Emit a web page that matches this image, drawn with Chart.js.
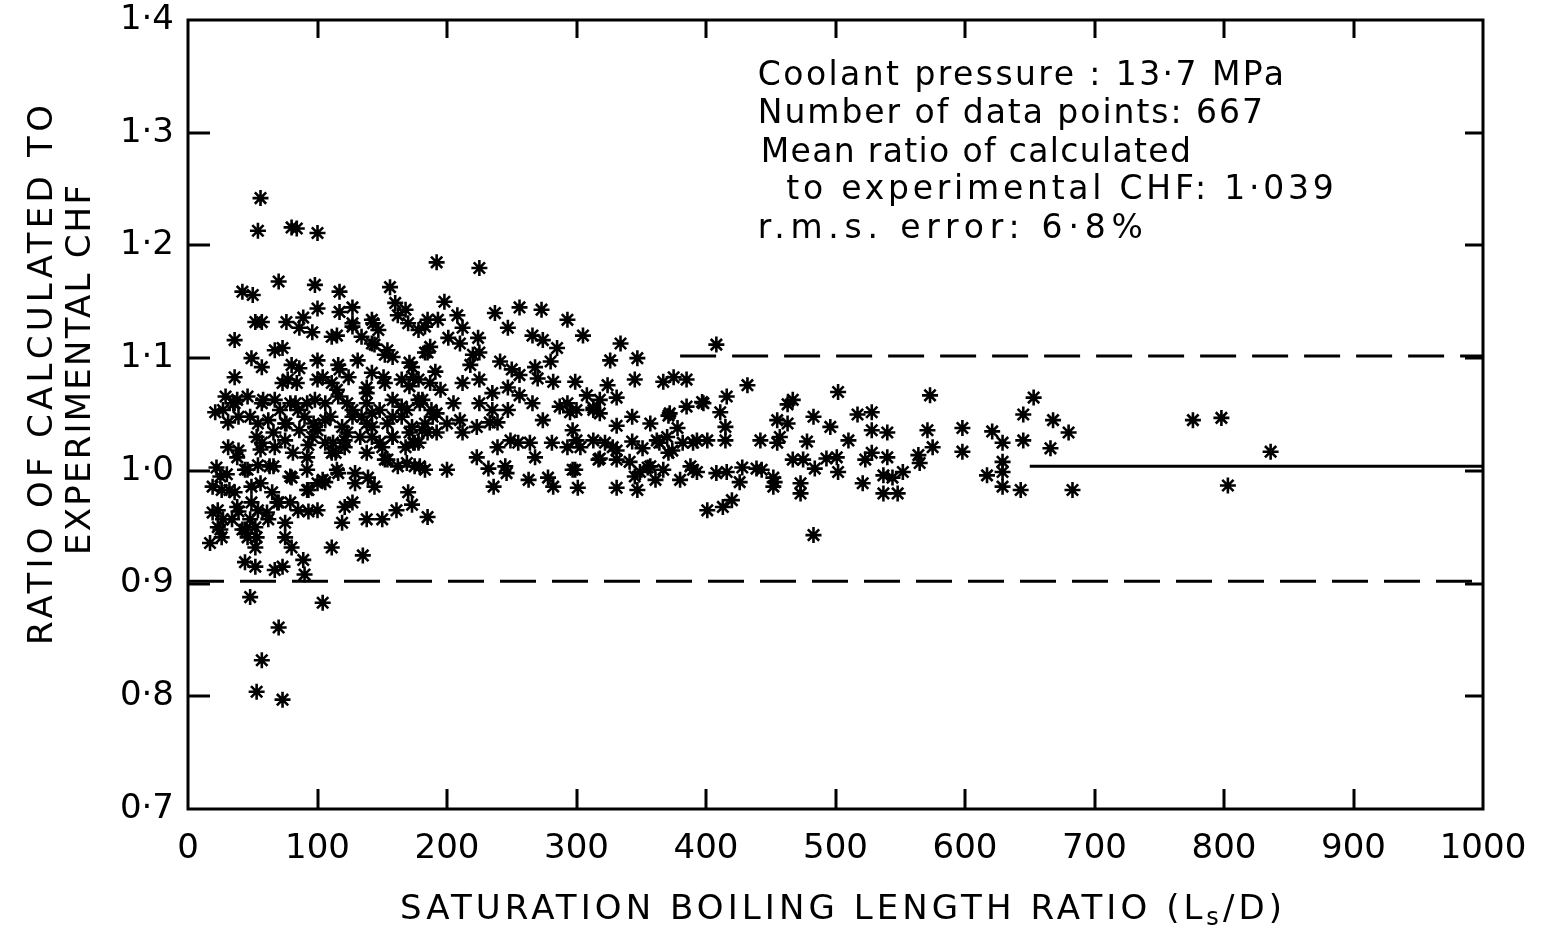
<!DOCTYPE html>
<html>
<head>
<meta charset="utf-8">
<script src="https://cdn.jsdelivr.net/npm/chart.js@4.4.1/dist/chart.umd.min.js"></script>
<style>
  html, body { margin: 0; background: #fff; }
  #wrap { width: 1545px; height: 930px; position: relative; }
</style>
</head>
<body>
<div id="wrap"><canvas id="chf"></canvas></div>
<script>
/* CHF ratio (calculated / experimental) against saturation boiling length ratio Ls/D */

// axis ticks
const xTickValues = [0, 100, 200, 300, 400, 500, 600, 700, 800, 900, 1000];
const xTickLabels = ['0', '100', '200', '300', '400', '500', '600', '700', '800', '900', '1000'];
const yTickValues = [0.7, 0.8, 0.9, 1.0, 1.1, 1.2, 1.3, 1.4];
const yTickLabels = ['0·7', '0·8', '0·9', '1·0', '1·1', '1·2', '1·3', '1·4'];

// [Ls/D, ratio] — short boiling lengths (Ls/D < 200)
const shortLs = [
  [56,1.242],[54,1.213],[80,1.216],[84,1.215],[100,1.211],[192,1.185],
  [70,1.168],[42,1.159],[50,1.156],[98,1.165],[117,1.159],[156,1.163],[100,1.144],[117,1.141],[127,1.145],[160,1.149],[168,1.143],
  [52,1.132],[57,1.132],[76,1.132],[89,1.136],[86,1.127],[96,1.123],[36,1.116],[67,1.107],[73,1.109],[111,1.119],[115,1.120],
  [127,1.131],[142,1.134],[147,1.125],[134,1.119],[144,1.112],[154,1.107],[162,1.138],[170,1.131],[178,1.125],[185,1.134],
  [49,1.100],[57,1.092],[80,1.094],[86,1.091],[100,1.098],[116,1.094],[117,1.090],[131,1.098],[142,1.087],[152,1.103],[173,1.092],[183,1.105],
  [36,1.083],[73,1.078],[77,1.081],[100,1.081],[111,1.078],[124,1.083],[138,1.069],[152,1.078],[165,1.081],[178,1.081],
  [29,1.066],[36,1.060],[46,1.066],[57,1.060],[21,1.052],[67,1.063],[83,1.060],[85,1.054],[98,1.063],[106,1.060],[116,1.066],
  [127,1.054],[138,1.060],[142,1.051],[158,1.063],[165,1.057],[178,1.063],[188,1.054],
  [31,1.043],[39,1.048],[54,1.042],[62,1.045],[75,1.042],[90,1.048],[98,1.039],[106,1.045],[119,1.039],[134,1.048],[142,1.039],
  [154,1.042],[165,1.048],[173,1.039],[183,1.042],
  [31,1.021],[39,1.018],[57,1.025],[75,1.027],[96,1.030],[106,1.025],[121,1.027],[142,1.030],[158,1.030],[178,1.025],
  [67,1.021],[93,1.023],[114,1.016],[121,1.021],[138,1.016],[150,1.021],[168,1.021],[175,1.025],
  [22,1.003],[30,0.997],[44,1.001],[54,1.005],[66,1.004],[80,0.994],[92,1.001],[111,1.016],[106,0.990],[116,0.998],[129,0.998],
  [129,0.989],[139,0.994],[144,0.986],[152,1.010],[162,1.004],[175,1.004],[183,1.001],
  [19,0.986],[26,0.983],[36,0.981],[49,0.986],[65,0.981],[93,0.983],[100,0.989],[170,0.981],
  [23,0.965],[39,0.964],[49,0.972],[54,0.965],[62,0.957],[70,0.972],[75,0.954],[85,0.965],[93,0.964],[100,0.965],
  [23,0.950],[34,0.957],[44,0.948],[52,0.950],[119,0.954],[121,0.968],[127,0.972],[138,0.957],[150,0.957],[161,0.965],[173,0.970],[185,0.959],
  [17,0.936],[26,0.941],[46,0.941],[52,0.932],[75,0.941],[80,0.932],[111,0.932],[135,0.925],
  [44,0.919],[52,0.915],[67,0.912],[73,0.915],[89,0.921],[90,0.908],
  [48,0.888],[104,0.883],[70,0.861],[57,0.832],[53,0.804],[73,0.797],
  [198,1.150],[193,1.134],[183,1.128],[187,1.110],[185,1.105],[191,1.088],[187,1.078],[195,1.072],[181,1.063],[192,1.051],[181,1.036],[192,1.034],[179,1.004],
  [127,1.128],[143,1.131],[142,1.113],[158,1.101],[171,1.096],[174,1.083],[171,1.075],[151,1.083],[138,1.074],[115,1.072],[123,1.060],
  [104,1.083],[84,1.078],[79,1.060],[58,1.063],[35,1.060],[27,1.054],[38,1.063],[48,1.048],[71,1.054],[76,1.042],[92,1.060],[97,1.042],
  [110,1.048],[127,1.048],[138,1.042],[148,1.054],[158,1.048],[169,1.054],[179,1.060],[189,1.048],
  [53,1.030],[66,1.034],[86,1.036],[100,1.036],[112,1.025],[123,1.034],[133,1.030],[148,1.025],[158,1.030],[171,1.034],[174,1.025],[185,1.034],
  [38,1.012],[56,1.019],[63,1.004],[81,1.016],[92,1.012],[115,1.001],[154,1.010],[169,1.007],
  [25,0.995],[32,0.983],[46,1.001],[56,0.989],[79,0.995],[104,0.992],
  [19,0.963],[27,0.957],[38,0.968],[48,0.957],[42,0.948],[61,0.963],[69,0.972],[79,0.972],[92,0.983],[25,0.948],[53,0.941]
];

// 200 <= Ls/D < 400
const midLs = [
  [225,1.180],[208,1.138],[237,1.140],[256,1.145],[273,1.143],[293,1.134],[305,1.120],[334,1.113],[326,1.098],[347,1.100],
  [247,1.127],[266,1.120],[274,1.116],[285,1.109],[212,1.127],[201,1.118],[224,1.118],[210,1.113],[220,1.103],[225,1.105],[218,1.094],
  [241,1.097],[250,1.090],[256,1.085],[268,1.092],[280,1.097],[212,1.078],[225,1.081],[235,1.069],[247,1.074],[256,1.067],[270,1.082],
  [282,1.079],[299,1.079],[324,1.076],[331,1.065],[345,1.081],[367,1.079],[375,1.083],[385,1.081],
  [205,1.060],[210,1.045],[225,1.060],[235,1.054],[239,1.043],[247,1.054],[266,1.060],[274,1.045],[293,1.060],[300,1.054],[313,1.054],
  [318,1.051],[331,1.040],[343,1.048],[357,1.042],[371,1.049],[378,1.038],[385,1.057],[398,1.060],[212,1.034],[223,1.039],[233,1.043],
  [200,1.001],[223,1.012],[232,1.002],[239,1.021],[249,1.027],[255,1.025],[245,1.004],[246,0.998],[236,0.986],[264,1.025],[281,1.025],
  [268,1.012],[278,0.994],[282,0.986],[263,0.992],[293,1.021],[300,1.027],[297,1.036],[299,1.001],[313,1.027],[322,1.025],[331,1.018],
  [318,1.011],[331,1.010],[343,1.026],[351,1.020],[341,1.008],[357,1.004],[367,1.001],[371,1.016],[362,1.027],[370,1.030],[382,1.025],
  [393,1.027],[390,1.001],[380,0.992],[331,0.985],[347,0.983],[301,0.985],
  [308,1.067],[318,1.063],[313,1.056],[397,1.061],[287,1.057],[295,1.052],[372,1.051],[364,1.025],[374,1.018],[390,1.025],[303,1.021],
  [317,1.010],[328,1.021],[297,1.001],[349,0.999],[388,1.004],[393,0.999],[345,0.995],[355,1.003],[361,0.992],[200,1.042]
];

// Ls/D >= 400
const longLs = [
  [408,1.112],[401,1.027],[416,1.066],[411,1.052],[415,1.039],[415,1.027],[432,1.076],[455,1.045],[463,1.042],[442,1.027],[455,1.025],
  [478,1.026],[483,1.048],[496,1.039],[502,1.070],[517,1.050],[528,1.052],[528,1.036],[540,1.034],[510,1.027],[573,1.067],[571,1.036],
  [575,1.021],[408,0.998],[416,0.999],[428,1.003],[439,1.002],[452,0.994],[467,1.010],[475,1.010],[473,0.989],[493,1.011],[501,1.012],
  [502,0.999],[523,1.010],[528,1.016],[540,1.012],[564,1.014],[565,1.007],[452,0.986],[521,0.989],[537,0.996],[544,0.994],[552,0.999],
  [537,0.980],[548,0.980],[401,0.965],[413,0.968],[420,0.974],[483,0.943],[467,1.063],[463,1.059],[426,0.990],[443,1.001],[457,1.030],
  [453,0.990],[484,1.002],[473,0.980],[598,1.038],[598,1.017],[621,1.035],[629,1.025],[629,1.008],[629,0.999],[617,0.996],[629,0.986],
  [653,1.065],[645,1.050],[668,1.045],[680,1.034],[645,1.027],[666,1.020],[643,0.983],[683,0.983],
  [776,1.045],[798,1.047],[836,1.017],[803,0.987]
];

// reference lines: ±10 % band and mean-ratio line
const upperBand = [[380, 1.102], [1000, 1.102]];
const lowerBand = [[0, 0.902], [1000, 0.902]];
const meanLine = [[650, 1.004], [1000, 1.004]];

const noteLines = [
  'Coolant pressure : 13·7 MPa',
  'Number of data points: 667',
  'Mean ratio of calculated',
  '  to experimental CHF: 1·039',
  'r.m.s. error: 6·8%'
];

const FONT = "'DejaVu Sans', sans-serif";

function toXY(arr) { return arr.map(function (p) { return { x: p[0], y: p[1] }; }); }

/* draw text stretched with letter spacing (or squeezed) to a given width, left aligned */
function fitText(ctx, text, x, y, width) {
  ctx.letterSpacing = '0px';
  const w = ctx.measureText(text).width;
  if (w < width && text.length > 1) {
    ctx.letterSpacing = ((width - w) / (text.length - 1)).toFixed(2) + 'px';
    ctx.fillText(text, x, y);
  } else {
    ctx.fillText(text, x, y, width);
  }
  ctx.letterSpacing = '0px';
}

const framePlugin = {
  id: 'frame',
  afterDraw(chart) {
    const ctx = chart.ctx;
    const a = chart.chartArea;
    const xs = chart.scales.x, ys = chart.scales.y;
    ctx.save();
    ctx.strokeStyle = '#000';
    ctx.fillStyle = '#000';
    ctx.lineWidth = 3;
    ctx.strokeRect(a.left, a.top, a.right - a.left, a.bottom - a.top);

    // inward tick marks on all four sides
    ctx.beginPath();
    xTickValues.slice(1, -1).forEach(function (v) {
      const px = Math.round(xs.getPixelForValue(v));
      ctx.moveTo(px, a.bottom); ctx.lineTo(px, a.bottom - 20);
      ctx.moveTo(px, a.top); ctx.lineTo(px, a.top + 18);
    });
    yTickValues.slice(1, -1).forEach(function (v) {
      const py = Math.round(ys.getPixelForValue(v));
      ctx.moveTo(a.left, py); ctx.lineTo(a.left + 22, py);
      ctx.moveTo(a.right, py); ctx.lineTo(a.right - 18, py);
    });
    ctx.stroke();

    // y axis title, two rotated lines
    ctx.font = '34px ' + FONT;
    ctx.textBaseline = 'middle';
    ctx.textAlign = 'left';
    [['RATIO OF CALCULATED TO', 43, 375, 540], ['EXPERIMENTAL CHF', 81, 370, 370]].forEach(function (t) {
      ctx.save();
      ctx.translate(t[1], t[2]);
      ctx.rotate(-Math.PI / 2);
      fitText(ctx, t[0], -t[3] / 2, 0, t[3]);
      ctx.restore();
    });

    // x axis title with subscript s
    const part1 = 'SATURATION BOILING LENGTH RATIO (L', sub = 's', part2 = '/D)';
    const left = 400, right = 1282, ty = 910;
    ctx.font = '34px ' + FONT;
    const w1 = ctx.measureText(part1).width, w2 = ctx.measureText(part2).width;
    ctx.font = '24px ' + FONT;
    const ws = ctx.measureText(sub).width;
    const nChars = part1.length + sub.length + part2.length;
    const ls = (right - left - w1 - w2 - ws) / (nChars - 1);
    ctx.letterSpacing = ls.toFixed(2) + 'px';
    ctx.font = '34px ' + FONT;
    ctx.fillText(part1, left, ty);
    let cx = left + w1 + ls * part1.length;
    ctx.font = '24px ' + FONT;
    ctx.fillText(sub, cx, ty + 9);
    cx += ws + ls;
    ctx.font = '34px ' + FONT;
    ctx.fillText(part2, cx, ty);
    ctx.letterSpacing = '0px';

    // statistics note
    ctx.font = '33px ' + FONT;
    const nx = xs.getPixelForValue(440);
    const rows = [[1.350, 0, 526], [1.316, 0, 505], [1.282, 3, 430], [1.249, 0, 576], [1.214, 0, 385]];
    noteLines.forEach(function (txt, i) {
      const r = rows[i];
      fitText(ctx, txt, nx + r[1], ys.getPixelForValue(r[0]), r[2]);
    });
    ctx.restore();
  }
};

const lineStyle = { showLine: true, pointRadius: 0, borderColor: '#000', borderWidth: 3, fill: false, order: 2 };

new Chart(document.getElementById('chf'), {
  type: 'scatter',
  data: {
    datasets: [
      Object.assign({ data: toXY(upperBand), borderDash: [36, 16] }, lineStyle),
      Object.assign({ data: toXY(lowerBand), borderDash: [36, 16] }, lineStyle),
      Object.assign({ data: toXY(meanLine) }, lineStyle),
      {
        data: toXY(shortLs.concat(midLs, longLs)),
        pointStyle: 'star',
        pointRadius: 8,
        borderWidth: 2.6,
        borderColor: '#000',
        backgroundColor: '#000',
        order: 1
      }
    ]
  },
  options: {
    responsive: true,
    maintainAspectRatio: false,
    animation: false,
    events: [],
    layout: { padding: { top: 20, right: 62, left: 0, bottom: 0 } },
    plugins: { legend: { display: false }, tooltip: { enabled: false } },
    scales: {
      x: {
        type: 'linear',
        min: 0,
        max: 1000,
        afterBuildTicks: function (s) { s.ticks = xTickValues.map(function (v) { return { value: v }; }); },
        afterFit: function (s) { s.height = 121; s.paddingLeft = 0; s.paddingRight = 0; },
        grid: { display: false, drawTicks: false },
        border: { display: false },
        ticks: {
          color: '#000',
          padding: 20,
          maxRotation: 0,
          autoSkip: false,
          font: { size: 34, family: FONT },
          callback: function (v, i) { return xTickLabels[i]; }
        }
      },
      y: {
        type: 'linear',
        min: 0.7,
        max: 1.4,
        afterBuildTicks: function (s) { s.ticks = yTickValues.map(function (v) { return { value: v }; }); },
        afterFit: function (s) { s.width = 188; s.paddingTop = 0; s.paddingBottom = 0; },
        grid: { display: false, drawTicks: false },
        border: { display: false },
        ticks: {
          color: '#000',
          padding: 14,
          autoSkip: false,
          font: { size: 34, family: FONT },
          callback: function (v, i) { return yTickLabels[i]; }
        }
      }
    }
  },
  plugins: [framePlugin]
});
</script>
</body>
</html>
